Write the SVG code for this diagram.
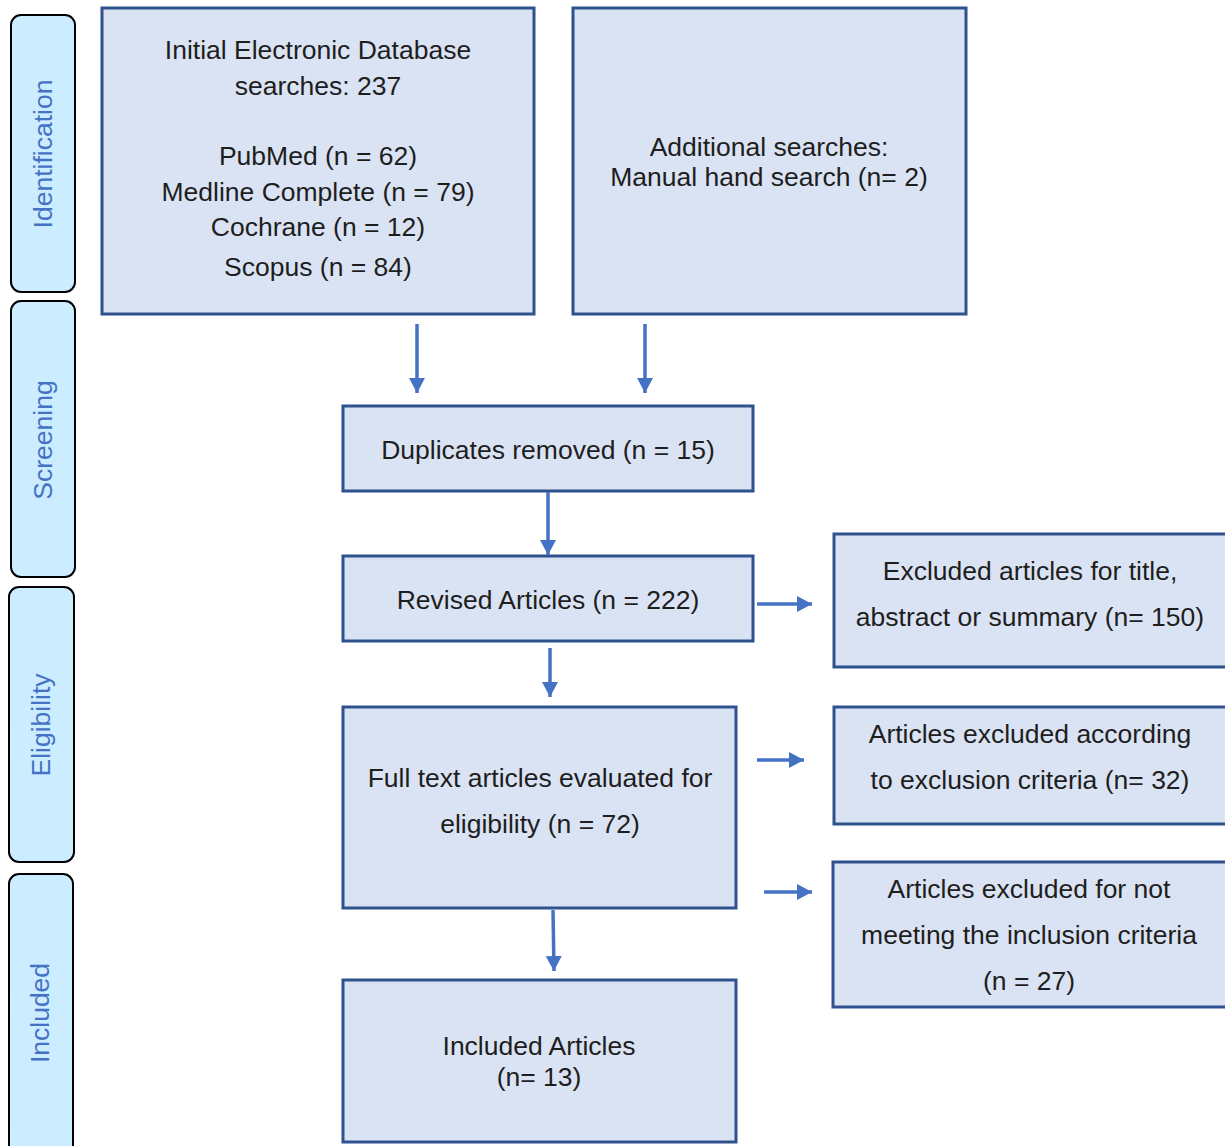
<svg xmlns="http://www.w3.org/2000/svg" width="1225" height="1146" viewBox="0 0 1225 1146">
<defs>
<marker id="ah" markerUnits="userSpaceOnUse" markerWidth="16" markerHeight="17" refX="15" refY="8" orient="auto">
<path d="M0,0 L15,8 L0,16 Z" fill="#4472C4"/>
</marker>
<style>
.stage{fill:#CCECFF;stroke:#000;stroke-width:2}
.stxt{font-family:"Liberation Sans",Arial,sans-serif;font-size:26.5px;fill:#4472C4;text-anchor:middle}
.box{fill:#DAE3F3;stroke:#2F528F;stroke-width:3}
.t{font-family:"Liberation Sans",Arial,sans-serif;font-size:26.5px;fill:#1e1e1e;text-anchor:middle}
.c{stroke:#4472C4;stroke-width:3.5;fill:none;marker-end:url(#ah)}
</style>
</defs>
<rect width="1225" height="1146" fill="#fff"/>

<g id="stage-identification">
<rect class="stage" x="11" y="15" width="64" height="277" rx="10"/>
<text class="stxt" transform="translate(52,154) rotate(-90)" x="0" y="0">Identification</text>
</g>
<g id="stage-screening">
<rect class="stage" x="11" y="301" width="64" height="276" rx="10"/>
<text class="stxt" transform="translate(52,440) rotate(-90)">Screening</text>
</g>
<g id="stage-eligibility">
<rect class="stage" x="9" y="587" width="65" height="275" rx="10"/>
<text class="stxt" transform="translate(50,725) rotate(-90)">Eligibility</text>
</g>
<g id="stage-included">
<rect class="stage" x="9" y="874" width="64" height="285" rx="10"/>
<text class="stxt" transform="translate(49,1013) rotate(-90)">Included</text>
</g>

<g id="initial">
<rect class="box" x="102" y="8" width="432" height="306"/>
<text class="t" x="318" y="59">Initial Electronic Database</text>
<text class="t" x="318" y="95">searches: 237</text>
<text class="t" x="318" y="165">PubMed (n = 62)</text>
<text class="t" x="318" y="201">Medline Complete (n = 79)</text>
<text class="t" x="318" y="236">Cochrane (n = 12)</text>
<text class="t" x="318" y="276">Scopus (n = 84)</text>
</g>
<g id="additional">
<rect class="box" x="573" y="8" width="393" height="306"/>
<text class="t" x="769" y="156">Additional searches:</text>
<text class="t" x="769" y="186">Manual hand search (n= 2)</text>
</g>
<g id="duplicates">
<rect class="box" x="343" y="406" width="410" height="85"/>
<text class="t" x="548" y="459">Duplicates removed (n = 15)</text>
</g>
<g id="revised">
<rect class="box" x="343" y="556" width="410" height="85"/>
<text class="t" x="548" y="609">Revised Articles (n = 222)</text>
</g>
<g id="excluded-title">
<rect class="box" x="834" y="534" width="396" height="133"/>
<text class="t" x="1030" y="580">Excluded articles for title,</text>
<text class="t" x="1030" y="626">abstract or summary (n= 150)</text>
</g>
<g id="fulltext">
<rect class="box" x="343" y="707" width="393" height="201"/>
<text class="t" x="540" y="787">Full text articles evaluated for</text>
<text class="t" x="540" y="833">eligibility (n = 72)</text>
</g>
<g id="excluded-criteria">
<rect class="box" x="834" y="707" width="396" height="117"/>
<text class="t" x="1030" y="743">Articles excluded according</text>
<text class="t" x="1030" y="789">to exclusion criteria (n= 32)</text>
</g>
<g id="excluded-inclusion">
<rect class="box" x="833" y="862" width="397" height="145"/>
<text class="t" x="1029" y="898">Articles excluded for not</text>
<text class="t" x="1029" y="944">meeting the inclusion criteria</text>
<text class="t" x="1029" y="990">(n = 27)</text>
</g>
<g id="included">
<rect class="box" x="343" y="980" width="393" height="162"/>
<text class="t" x="539" y="1055">Included Articles</text>
<text class="t" x="539" y="1086">(n= 13)</text>
</g>

<g id="connectors">
<line class="c" x1="417" y1="324" x2="417" y2="393"/>
<line class="c" x1="645" y1="324" x2="645" y2="393"/>
<line class="c" x1="548" y1="492" x2="548" y2="555"/>
<line class="c" x1="550" y1="648" x2="550" y2="697"/>
<line class="c" x1="553" y1="910" x2="554" y2="971"/>
<line class="c" x1="757" y1="604" x2="812" y2="604"/>
<line class="c" x1="757" y1="760" x2="804" y2="760"/>
<line class="c" x1="764" y1="892" x2="812" y2="892"/>
</g>
</svg>
